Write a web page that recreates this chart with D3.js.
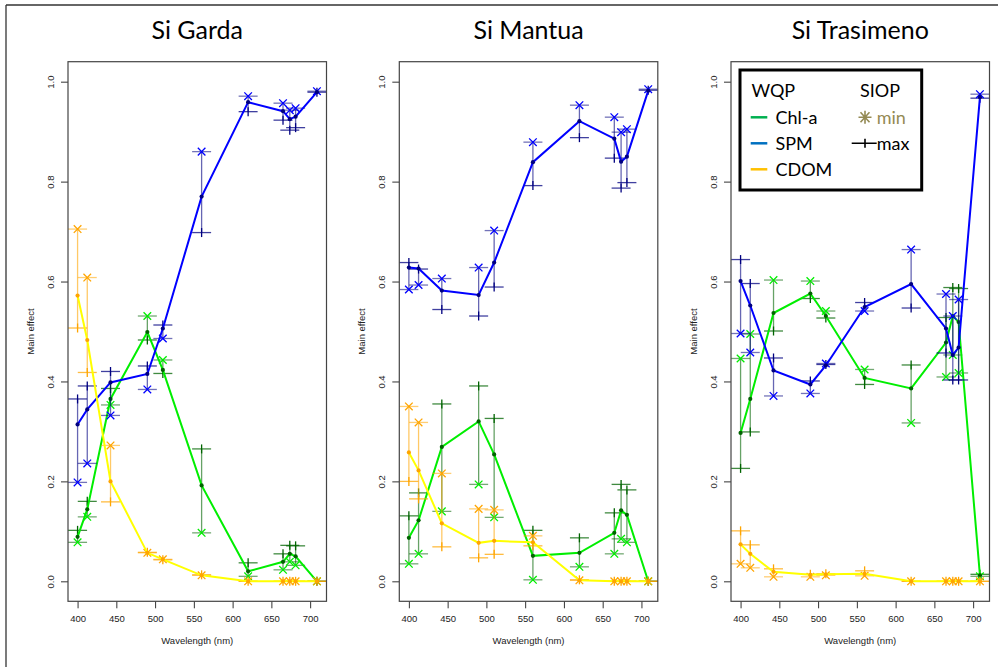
<!DOCTYPE html>
<html>
<head>
<meta charset="utf-8">
<script src="https://cdn.jsdelivr.net/npm/d3@7/dist/d3.min.js"></script>
<style>
  body { margin: 0; background: #fff; }
  svg { display: block; }
</style>
</head>
<body>
<div id="chart"></div>
<script>
const wavelengths = [400, 412.5, 442.5, 490, 510, 560, 620, 665, 673.75, 681.25, 708.75]
const xTicks = [400, 450, 500, 550, 600, 650, 700]
const yTicks = [0, 0.2, 0.4, 0.6, 0.8, 1.0]
const lakeTitles = ['Si Garda', 'Si Mantua', 'Si Trasimeno']
const wqpNames = ['Chl-a', 'SPM', 'CDOM']
const siopNames = ['min', 'max']

const gardaChlMain = [0.089, 0.144, 0.365, 0.499, 0.423, 0.192, 0.020, 0.039, 0.055, 0.050, 0.000]
const gardaChlMin = [0.078, 0.129, 0.353, 0.531, 0.443, 0.097, 0.010, 0.023, 0.039, 0.032, 0.000]
const gardaChlMax = [0.102, 0.160, 0.386, 0.483, 0.416, 0.265, 0.037, 0.055, 0.072, 0.071, 0.000]
const gardaSpmMain = [0.314, 0.344, 0.398, 0.415, 0.506, 0.770, 0.959, 0.941, 0.925, 0.930, 0.979]
const gardaSpmMin = [0.198, 0.236, 0.332, 0.384, 0.486, 0.860, 0.971, 0.957, 0.943, 0.947, 0.981]
const gardaSpmMax = [0.365, 0.391, 0.420, 0.431, 0.513, 0.698, 0.940, 0.923, 0.903, 0.908, 0.979]
const gardaCdomMain = [0.572, 0.483, 0.200, 0.057, 0.044, 0.012, 0, 0, 0, 0, 0]
const gardaCdomMin = [0.705, 0.608, 0.272, 0.057, 0.044, 0.012, 0, 0, 0, 0, 0]
const gardaCdomMax = [0.507, 0.418, 0.159, 0.058, 0.043, 0.013, 0, 0, 0, 0, 0]

const mantuaChlMain = [0.087, 0.122, 0.269, 0.320, 0.254, 0.051, 0.057, 0.097, 0.142, 0.133, 0.000]
const mantuaChlMin = [0.035, 0.055, 0.140, 0.194, 0.128, 0.003, 0.029, 0.055, 0.085, 0.078, 0.000]
const mantuaChlMax = [0.131, 0.177, 0.355, 0.391, 0.326, 0.102, 0.087, 0.137, 0.194, 0.183, 0.000]
const mantuaSpmMain = [0.628, 0.626, 0.582, 0.573, 0.638, 0.839, 0.921, 0.886, 0.840, 0.850, 0.982]
const mantuaSpmMin = [0.584, 0.593, 0.606, 0.628, 0.702, 0.879, 0.953, 0.929, 0.899, 0.905, 0.985]
const mantuaSpmMax = [0.638, 0.625, 0.544, 0.531, 0.589, 0.792, 0.888, 0.847, 0.787, 0.798, 0.983]
const mantuaCdomMain = [0.258, 0.222, 0.116, 0.077, 0.081, 0.078, 0.002, 0, 0, 0, 0]
const mantuaCdomMin = [0.350, 0.318, 0.216, 0.145, 0.143, 0.091, 0.002, 0, 0, 0, 0]
const mantuaCdomMax = [0.200, 0.165, 0.069, 0.047, 0.054, 0.071, 0.003, 0, 0, 0, 0]

const trasimenoChlMain = [0.297, 0.365, 0.537, 0.576, 0.531, 0.407, 0.386, 0.478, 0.531, 0.519, 0.012]
const trasimenoChlMin = [0.446, 0.495, 0.603, 0.601, 0.541, 0.424, 0.317, 0.409, 0.453, 0.417, 0.010]
const trasimenoChlMax = [0.226, 0.299, 0.501, 0.566, 0.527, 0.394, 0.433, 0.528, 0.588, 0.586, 0.014]
const trasimenoSpmMain = [0.601, 0.552, 0.422, 0.394, 0.432, 0.549, 0.595, 0.506, 0.453, 0.468, 0.969]
const trasimenoSpmMin = [0.496, 0.458, 0.371, 0.376, 0.436, 0.541, 0.664, 0.575, 0.531, 0.564, 0.975]
const trasimenoSpmMax = [0.644, 0.596, 0.447, 0.401, 0.434, 0.558, 0.547, 0.457, 0.403, 0.403, 0.967]
const trasimenoCdomMain = [0.074, 0.055, 0.019, 0.013, 0.014, 0.015, 0, 0, 0, 0, 0]
const trasimenoCdomMin = [0.035, 0.027, 0.009, 0.009, 0.012, 0.011, 0, 0, 0, 0, 0]
const trasimenoCdomMax = [0.101, 0.073, 0.025, 0.014, 0.015, 0.021, 0, 0, 0, 0, 0]

const panels = [
  [[gardaChlMain, gardaChlMin, gardaChlMax], [gardaSpmMain, gardaSpmMin, gardaSpmMax], [gardaCdomMain, gardaCdomMin, gardaCdomMax]],
  [[mantuaChlMain, mantuaChlMin, mantuaChlMax], [mantuaSpmMain, mantuaSpmMin, mantuaSpmMax], [mantuaCdomMain, mantuaCdomMin, mantuaCdomMax]],
  [[trasimenoChlMain, trasimenoChlMin, trasimenoChlMax], [trasimenoSpmMain, trasimenoSpmMin, trasimenoSpmMax], [trasimenoCdomMain, trasimenoCdomMin, trasimenoCdomMax]]
]

// line colour, dark (dots, bars, max), bright (min)
const styles = [
  { line: '#00ee00', dark: '#006400', bright: '#00ee00' },
  { line: '#0000ff', dark: '#000080', bright: '#0000ff' },
  { line: '#ffff00', dark: '#ffa500', bright: '#ffa500' }
]
const legendColors = ['#00b050', '#0070c0', '#ffc000']

const width = 998, height = 667
const panelLefts = [68, 399.3, 731]
const panelWidth = 258.5
const plotTop = 61.7, plotBottom = 601.3

const svg = d3.select('#chart').append('svg')
  .attr('width', width)
  .attr('height', height)

svg.append('line').attr('x1', 6).attr('x2', width).attr('y1', 5).attr('y2', 5)
  .attr('stroke', '#333').attr('stroke-width', 1.3)
svg.append('line').attr('x1', 6).attr('x2', 6).attr('y1', 5).attr('y2', height)
  .attr('stroke', '#333').attr('stroke-width', 1.3)

const y = d3.scaleLinear().domain([-0.04, 1.04]).range([plotBottom, plotTop])

panels.forEach((series, p) => {
  const left = panelLefts[p]
  const x = d3.scaleLinear().domain([387.65, 721.1]).range([left, left + panelWidth])
  const g = svg.append('g')

  g.append('text')
    .attr('x', left + panelWidth / 2)
    .attr('y', 39)
    .attr('text-anchor', 'middle')
    .style('font-family', 'Lato, sans-serif')
    .style('font-size', '25px')
    .text(lakeTitles[p])

  const yAxis = g.append('g')
    .attr('transform', `translate(${left},0)`)
    .call(d3.axisLeft(y).tickValues(yTicks).tickFormat(d3.format('.1f')).tickSize(7))
  yAxis.select('.domain').remove()
  yAxis.selectAll('line').attr('stroke', '#333')
  yAxis.selectAll('text')
    .attr('transform', 'rotate(-90)')
    .attr('x', 0).attr('y', -14.2).attr('dy', 0)
    .attr('text-anchor', 'middle')
    .attr('fill', '#222')
    .style('font-family', 'Liberation Sans, Arial, sans-serif')
    .style('font-size', '9.5px')

  const xAxis = g.append('g')
    .attr('transform', `translate(0,${plotBottom})`)
    .call(d3.axisBottom(x).tickValues(xTicks).tickSize(7).tickPadding(6.5))
  xAxis.select('.domain').remove()
  xAxis.selectAll('line').attr('stroke', '#333')
  xAxis.selectAll('text')
    .attr('fill', '#222')
    .style('font-family', 'Liberation Sans, Arial, sans-serif')
    .style('font-size', '9.5px')

  g.append('text')
    .attr('x', left + panelWidth / 2).attr('y', 643.5)
    .attr('text-anchor', 'middle')
    .attr('fill', '#222')
    .style('font-family', 'Liberation Sans, Arial, sans-serif')
    .style('font-size', '9.5px')
    .text('Wavelength (nm)')

  g.append('text')
    .attr('transform', `translate(${left - 34},${(plotTop + plotBottom) / 2}) rotate(-90)`)
    .attr('text-anchor', 'middle')
    .attr('fill', '#222')
    .style('font-family', 'Liberation Sans, Arial, sans-serif')
    .style('font-size', '9.5px')
    .text('Main effect')

  series.forEach(([main, mins, maxs], s) => {
    const st = styles[s]
    const rows = wavelengths.map((w, i) => ({ w: w, main: main[i], min: mins[i], max: maxs[i] }))
    const bars = g.append('g')

    bars.selectAll('.bar').data(rows).enter().append('line')
      .attr('x1', d => x(d.w)).attr('x2', d => x(d.w))
      .attr('y1', d => y(d.min)).attr('y2', d => y(d.max))
      .attr('stroke', st.dark).attr('stroke-opacity', 0.6).attr('stroke-width', 1.3)

    bars.selectAll('.capmin').data(rows).enter().append('line')
      .attr('x1', d => x(d.w) - 9.5).attr('x2', d => x(d.w) + 9.5)
      .attr('y1', d => y(d.min)).attr('y2', d => y(d.min))
      .attr('stroke', st.dark).attr('stroke-opacity', 0.55).attr('stroke-width', 1.3)

    bars.selectAll('.capmax').data(rows).enter().append('line')
      .attr('x1', d => x(d.w) - 9.5).attr('x2', d => x(d.w) + 9.5)
      .attr('y1', d => y(d.max)).attr('y2', d => y(d.max))
      .attr('stroke', st.dark).attr('stroke-opacity', 0.75).attr('stroke-width', 1.3)

    bars.selectAll('.plus').data(rows).enter().append('line')
      .attr('x1', d => x(d.w)).attr('x2', d => x(d.w))
      .attr('y1', d => y(d.max) - 4.5).attr('y2', d => y(d.max) + 4.5)
      .attr('stroke', st.dark).attr('stroke-width', 1.3)

    bars.selectAll('.cross').data(rows).enter().append('path')
      .attr('d', d => {
        const cx = x(d.w), cy = y(d.min), r = 3.8
        return `M${cx - r},${cy - r}L${cx + r},${cy + r}M${cx - r},${cy + r}L${cx + r},${cy - r}`
      })
      .attr('stroke', st.bright).attr('stroke-width', 1.3).attr('fill', 'none')

    g.append('path')
      .datum(rows)
      .attr('d', d3.line().x(d => x(d.w)).y(d => y(d.main)))
      .attr('fill', 'none')
      .attr('stroke', st.line)
      .attr('stroke-width', 2)

    g.append('g').selectAll('circle').data(rows).enter().append('circle')
      .attr('cx', d => x(d.w)).attr('cy', d => y(d.main))
      .attr('r', 2.1)
      .attr('fill', st.dark)
  })

  g.append('rect')
    .attr('x', left).attr('y', plotTop)
    .attr('width', panelWidth).attr('height', plotBottom - plotTop)
    .attr('fill', 'none')
    .attr('stroke', '#444')
    .attr('stroke-width', 1.2)
})

// legend in the third panel
const legend = svg.append('g').attr('transform', 'translate(740,70)')
  .style('font-family', 'Lato, sans-serif')
  .style('font-size', '18px')

legend.append('rect')
  .attr('width', 181.7).attr('height', 120)
  .attr('fill', '#fff').attr('stroke', '#000').attr('stroke-width', 3)

legend.append('text').attr('x', 11.5).attr('y', 26.7).text('WQP')
legend.append('text').attr('x', 120).attr('y', 26.7).text('SIOP')

wqpNames.forEach((name, i) => {
  const ly = 47.3 + i * 26
  legend.append('line')
    .attr('x1', 10.7).attr('x2', 27.3).attr('y1', ly).attr('y2', ly)
    .attr('stroke', legendColors[i]).attr('stroke-width', 2.5)
  legend.append('text').attr('x', 35.5).attr('y', ly + 7).text(name)
})

const minY = 47.3, maxY = 73.3
legend.append('path')
  .attr('d', `M118.5,${minY}L131.5,${minY}M125,${minY - 6.5}L125,${minY + 6.5}M120.5,${minY - 5}L129.5,${minY + 5}M120.5,${minY + 5}L129.5,${minY - 5}`)
  .attr('stroke', '#948a54').attr('stroke-width', 1.6).attr('fill', 'none')
legend.append('text').attr('x', 136.7).attr('y', minY + 7).attr('fill', '#948a54').text(siopNames[0])

legend.append('path')
  .attr('d', `M111.7,${maxY}L136.7,${maxY}M125,${maxY - 4.5}L125,${maxY + 4.5}`)
  .attr('stroke', '#000').attr('stroke-width', 1.6).attr('fill', 'none')
legend.append('text').attr('x', 136.7).attr('y', maxY + 7).text(siopNames[1])
</script>
</body>
</html>
